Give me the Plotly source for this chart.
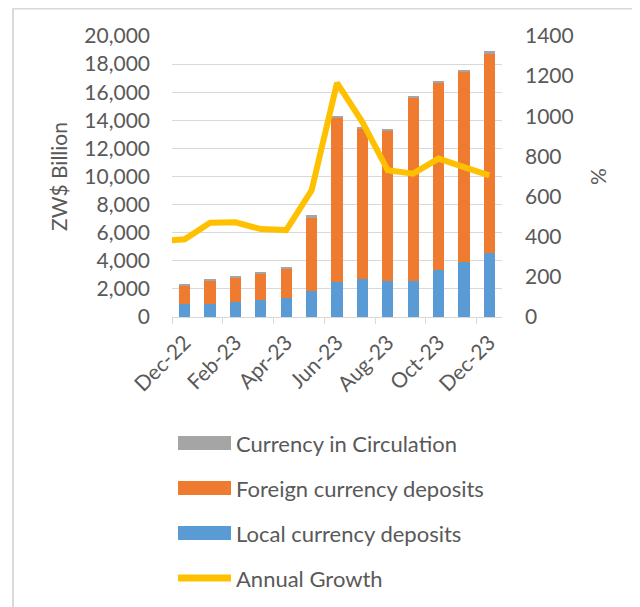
import plotly.graph_objects as go

# ---------------- data ----------------
months = ["Dec-22", "Jan-23", "Feb-23", "Mar-23", "Apr-23", "May-23", "Jun-23",
          "Jul-23", "Aug-23", "Sep-23", "Oct-23", "Nov-23", "Dec-23"]
local_dep = [930, 930, 1070, 1210, 1370, 1840, 2490, 2680, 2540, 2540, 3330, 3890, 4540]
totals = [2330, 2710, 2900, 3180, 3560, 7240, 14290, 13530, 13410, 15710, 16780, 17610, 18900]
circulation = [110, 130, 100, 110, 80, 130, 120, 110, 110, 100, 110, 120, 130]
foreign_dep = [t - l - c for t, l, c in zip(totals, local_dep, circulation)]
# annual growth (%); first value is Nov-22, which lies just outside the visible axis
growth_months = ["Nov-22"] + months
growth = [377, 387, 470, 472, 438, 433, 631, 1166, 971, 731, 714, 789, 747, 706]

series_names = ["Currency in Circulation", "Foreign currency deposits",
                "Local currency deposits", "Annual Growth"]
tick_labels = months[::2]

# ---------------- style ----------------
OFF = 8  # page body margin
W, H = 640 - OFF, 607 - OFF
PL, PR, PT, PB = 172, 502, 36, 317  # plot area in screen pixels
ML, MT = PL - OFF, PT - OFF
MR, MB = W - (PR - OFF), H - (PB - OFF)
FONT = "Lato, 'Open Sans', sans-serif"
TXT = "#595959"
GRID = "#d9d9d9"
C_CIRC = "#A5A5A5"
C_FOR = "#EE7B30"
C_LOC = "#5B9BD5"
C_LINE = "#FFC000"

xs = list(range(len(months)))
gx = list(range(-1, len(months)))

fig = go.Figure()
fig.add_bar(x=xs, y=local_dep, name=series_names[2], marker_color=C_LOC,
            marker_line_width=0, showlegend=False)
fig.add_bar(x=xs, y=foreign_dep, name=series_names[1], marker_color=C_FOR,
            marker_line_width=0, showlegend=False)
fig.add_bar(x=xs, y=circulation, name=series_names[0], marker_color=C_CIRC,
            marker_line_width=0, showlegend=False)
fig.add_scatter(x=gx, y=growth, name=series_names[3], yaxis="y2", mode="lines",
                line=dict(color=C_LINE, width=6), showlegend=False)

pw = PR - PL
ph = PB - PT


def px_x(p):
    return (p - PL) / pw


def px_y(p):
    return (PB - p) / ph


shapes = []
annotations = []
# frame (left and top borders)
shapes.append(dict(type="line", xref="paper", yref="paper", x0=px_x(13), x1=px_x(650),
                   y0=px_y(8.5), y1=px_y(8.5), line=dict(color=GRID, width=2)))
shapes.append(dict(type="line", xref="paper", yref="paper", x0=px_x(13), x1=px_x(13),
                   y0=px_y(8.5), y1=px_y(620), line=dict(color=GRID, width=2)))

# custom legend
leg_colors = [C_CIRC, C_FOR, C_LOC]
leg_y = [443, 488, 533, 578]
for i, name in enumerate(series_names):
    cy = leg_y[i]
    if i < 3:
        shapes.append(dict(type="rect", xref="paper", yref="paper",
                           x0=px_x(178), x1=px_x(231), y0=px_y(cy - 7), y1=px_y(cy + 7),
                           fillcolor=leg_colors[i], line=dict(width=0)))
    else:
        shapes.append(dict(type="line", xref="paper", yref="paper",
                           x0=px_x(178), x1=px_x(231), y0=px_y(cy), y1=px_y(cy),
                           line=dict(color=C_LINE, width=7)))
    annotations.append(dict(xref="paper", yref="paper", x=px_x(234), y=px_y(cy),
                            text=name, showarrow=False, xanchor="left", yanchor="middle",
                            font=dict(family=FONT, size=22, color=TXT)))

fig.update_layout(
    width=W, height=H,
    margin=dict(l=ML, r=MR, t=MT, b=MB),
    paper_bgcolor="white", plot_bgcolor="white",
    barmode="stack", bargap=0.56,
    font=dict(family=FONT, size=21, color=TXT),
    shapes=shapes, annotations=annotations,
    xaxis=dict(
        range=[-0.5, len(months) - 0.5],
        tickmode="array", tickvals=xs[::2], ticktext=tick_labels,
        tickangle=-45, ticks="", showgrid=False, zeroline=False,
        showline=True, linecolor=GRID, linewidth=1,
        ticklabelstandoff=4,
        tickfont=dict(family=FONT, size=21, color=TXT),
        minor=dict(tickmode="array", tickvals=[i - 0.5 for i in xs[::2]],
                   ticks="outside", ticklen=6, tickcolor=GRID, tickwidth=1, showgrid=False),
    ),
    yaxis=dict(
        range=[0, 20000], tickmode="linear", tick0=0, dtick=2000, tickformat=",d",
        showgrid=True, gridcolor=GRID, gridwidth=1, zeroline=False, ticks="",
        ticklabelstandoff=21,
        tickfont=dict(family=FONT, size=21, color=TXT),
        title=dict(text="ZW$ Billion", font=dict(family=FONT, size=21, color=TXT), standoff=10),
    ),
    yaxis2=dict(
        range=[0, 1400], tickmode="linear", tick0=0, dtick=200, tickformat="d",
        overlaying="y", side="right", showgrid=False, zeroline=False, ticks="",
        ticklabelstandoff=22,
        tickfont=dict(family=FONT, size=21, color=TXT),
        title=dict(text="%", font=dict(family=FONT, size=21, color=TXT), standoff=18),
    ),
)

fig.write_html("out.html")
